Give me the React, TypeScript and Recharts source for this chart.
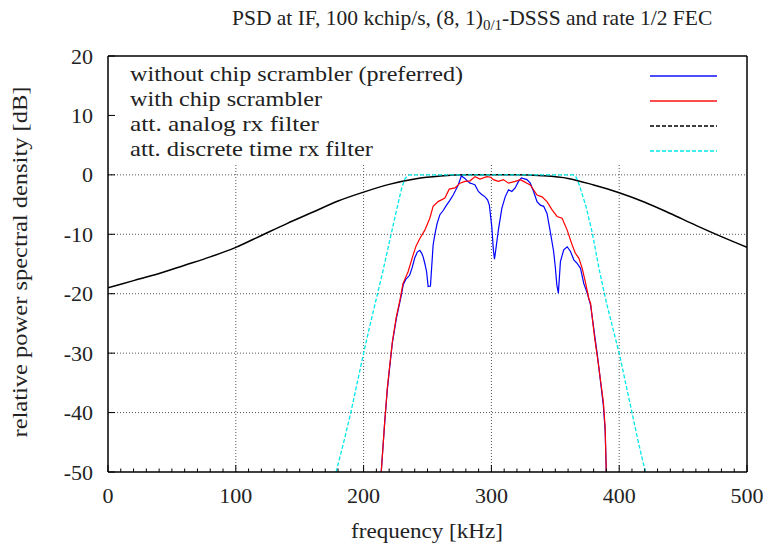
import { LineChart, Line, XAxis, YAxis, ReferenceLine } from "recharts";

// frequency [kHz] / relative PSD [dB]
const blueFreq = [
  213.8, 216.4, 218.5, 220.4, 222.5, 225.6, 229.5, 231, 233, 236, 238, 240, 242,
  244, 245.5, 246.6, 248, 249.3, 250.5, 252.3, 254.4, 255.7, 257.5, 259.7, 262.3,
  264.9, 267.5, 270.1, 272, 274, 276.5, 279.3, 281, 283.3, 285, 287.2, 289.8,
  292.4, 295, 297, 298.4, 300.3, 301.5, 302.4, 303.5, 305.5, 308.2, 310.8, 313.4,
  316, 318.6, 321.2, 323.5, 327.8, 330.4, 333, 335.7, 338.3, 340.9, 343.5, 346.1,
  348.7, 350, 351.2, 352.4, 354, 356.6, 359.3, 361.9, 364.5, 367.1, 369.7, 372.3,
  375, 377.6, 380.5, 383, 385.4, 387.6, 389, 389.9,
];
const blueDb = [
  -50, -42, -36.3, -32.4, -28.3, -24.2, -20.3, -18.5, -17.6, -16.9, -15.6, -14.0,
  -13.0, -12.7, -13.2, -13.8, -15, -16.3, -18.8, -18.7, -11.8, -10.1, -8.2, -6.7,
  -6.0, -5.1, -4.3, -3.4, -2.6, -1.7, -0.2, -0.6, -1.0, -1.4, -1.5, -1.7, -2.8,
  -3.3, -3.7, -4.2, -5.1, -8.7, -12.5, -14.2, -12.5, -9.2, -5.6, -3.7, -2.5,
  -2.8, -2.2, -1.1, -0.5, -0.8, -1.4, -2.8, -4.5, -5.1, -5.3, -6.5, -9.6, -12.9,
  -15.5, -18.5, -19.9, -14.6, -12.6, -12.1, -12.9, -14.3, -14.9, -15.7, -18.3,
  -19.9, -21.9, -26.5, -30.5, -34.8, -38.8, -43, -50,
];

const redFreq = [
  213.8, 216.4, 218.5, 220.4, 222.5, 225.6, 228.5, 230.8, 234.8, 238.7, 241, 244,
  247.9, 251.8, 254.4, 258.3, 263.6, 267, 271.5, 275.4, 279.3, 283.3, 287.2,
  291.1, 296.4, 299.5, 301.6, 305.5, 309.4, 313.4, 318.6, 322.6, 325.2, 327.8,
  330.4, 333, 335.7, 339.6, 343.5, 347.5, 351.4, 355.3, 359.3, 363.2, 365.7,
  368.4, 371, 373.5, 376.2, 377.6, 380.7, 383.3, 385.4, 387.6, 389, 389.9,
];
const redDb = [
  -50, -41.9, -36.0, -32.2, -28.1, -23.9, -21, -18.3, -16.3, -13.5, -12, -10.7,
  -9.3, -7.3, -5.3, -4.5, -3.9, -2.4, -2.2, -1.4, -1.1, -1.0, -0.3, -0.7, -0.3,
  -0.4, -0.8, -1.1, -0.8, -1.4, -1.1, -0.8, -1.1, -1.4, -1.7, -2.5, -3.4, -3.7,
  -4.5, -5.9, -7.0, -7.3, -9.3, -11.8, -13.2, -14.0, -15.7, -18.0, -20.8, -21.6,
  -27.3, -31.2, -34.6, -38.2, -42.5, -50,
];

const analogFreq = [
  0, 20, 40, 60, 80, 100, 120, 140, 160, 180, 200, 220, 240, 260, 280, 300, 320,
  340, 360, 380, 400, 420, 440, 460, 480, 500,
];
const analogDb = [
  -19.0, -17.8, -16.6, -15.2, -13.8, -12.2, -10.2, -8.2, -6.3, -4.4, -2.9, -1.6,
  -0.7, -0.2, 0, 0, 0, -0.15, -0.6, -1.7, -3.0, -4.6, -6.5, -8.5, -10.4, -12.2,
];

const discreteFreq = [
  178.5, 185, 190, 195, 200, 205, 210, 215, 220.3, 225.5, 229.5, 232, 234, 236,
  300, 364, 366, 368.8, 374, 379, 384.4, 390, 395, 400, 405, 410, 415, 420.5,
];
const discreteDb = [
  -50, -44.5, -40, -35, -30, -25.3, -20.8, -16.3, -11.2, -6.2, -2.5, -0.8, -0.2,
  0, 0, 0, -0.3, -1.7, -5.3, -9.8, -16, -21.5, -25.8, -30, -35, -40, -45, -50,
];

const xMajor = [0, 100, 200, 300, 400, 500];
const xTicks = [
  0, 10, 20, 30, 40, 50, 60, 70, 80, 90, 100, 110, 120, 130, 140, 150, 160, 170,
  180, 190, 200, 210, 220, 230, 240, 250, 260, 270, 280, 290, 300, 310, 320, 330,
  340, 350, 360, 370, 380, 390, 400, 410, 420, 430, 440, 450, 460, 470, 480, 490,
  500,
];
const yTicks = [-50, -40, -30, -20, -10, 0, 10, 20];
const gridX = [100, 200, 300, 400];
const gridY = [-40, -30, -20, -10, 0];

const legendItems = [
  { label: "without chip scrambler (preferred)", color: "#1010ff", dash: "", len: 333 },
  { label: "with chip scrambler", color: "#ff1010", dash: "", len: 192 },
  { label: "att. analog rx filter", color: "#000000", dash: "4 2", len: 189 },
  { label: "att. discrete time rx filter", color: "#00e8e8", dash: "4 2", len: 243 },
];

const toRows = (fs: number[], ds: number[]) => fs.map((f, i) => ({ f, db: ds[i] }));
const blueData = toRows(blueFreq, blueDb);
const redData = toRows(redFreq, redDb);
const analogData = toRows(analogFreq, analogDb);
const discreteData = toRows(discreteFreq, discreteDb);

const FONT = "'Liberation Serif', 'Times New Roman', serif";

const BottomTick = (p: any) => {
  const v = p.payload.value;
  const major = xMajor.includes(v);
  return (
    <g>
      <line x1={p.x} x2={p.x} y1={p.y} y2={p.y - (major ? 7 : 3.5)} stroke="#000" />
      {major && (
        <text x={p.x} y={p.y + 31} textAnchor="middle" fontFamily={FONT} fontSize={22} fill="#222">
          {v}
        </text>
      )}
    </g>
  );
};

const TopTick = (p: any) => {
  const major = xMajor.includes(p.payload.value);
  return <line x1={p.x} x2={p.x} y1={p.y} y2={p.y + (major ? 7 : 3.5)} stroke="#000" />;
};

const LeftTick = (p: any) => (
  <g>
    <line x1={p.x} x2={p.x + 7} y1={p.y} y2={p.y} stroke="#000" />
    <text x={p.x - 15} y={p.y + 7.5} textAnchor="end" fontFamily={FONT} fontSize={22} fill="#222">
      {p.payload.value}
    </text>
  </g>
);

const RightTick = (p: any) => (
  <line x1={p.x} x2={p.x - 7} y1={p.y} y2={p.y} stroke="#000" />
);

export default function App() {
  const axisLine = { stroke: "#000", strokeWidth: 1.5 };
  return (
    <div style={{ position: "relative", width: 771, height: 545, margin: "-8px 0 0 -8px", background: "#fff" }}>
      <LineChart width={771} height={545} margin={{ top: 55, right: 23, bottom: 72, left: 107 }}>
        <XAxis
          type="number"
          dataKey="f"
          domain={[0, 500]}
          ticks={xTicks}
          interval={0}
          height={1}
          tickLine={false}
          tickSize={0}
          tickMargin={0}
          axisLine={axisLine}
          tick={BottomTick}
          allowDataOverflow
        />
        <XAxis
          xAxisId="top"
          orientation="top"
          type="number"
          dataKey="f"
          domain={[0, 500]}
          ticks={xTicks}
          interval={0}
          height={1}
          tickLine={false}
          tickSize={0}
          tickMargin={0}
          axisLine={axisLine}
          tick={TopTick}
        />
        <YAxis
          type="number"
          domain={[-50, 20]}
          ticks={yTicks}
          interval={0}
          width={1}
          tickLine={false}
          tickSize={0}
          tickMargin={0}
          axisLine={axisLine}
          tick={LeftTick}
          allowDataOverflow
        />
        <YAxis
          yAxisId="right"
          orientation="right"
          type="number"
          domain={[-50, 20]}
          ticks={yTicks}
          interval={0}
          width={1}
          tickLine={false}
          tickSize={0}
          tickMargin={0}
          axisLine={axisLine}
          tick={RightTick}
        />
        {gridX.map((x) => (
          <ReferenceLine
            key={"gx" + x}
            segment={[
              { x, y: -50 },
              { x, y: 2 },
            ]}
            stroke="#555"
            strokeDasharray="1 2"
          />
        ))}
        {gridY.map((y) => (
          <ReferenceLine key={"gy" + y} y={y} stroke="#555" strokeDasharray="1 2" />
        ))}
        <Line data={blueData} dataKey="db" stroke="#0000ff" strokeWidth={1.2} dot={false} isAnimationActive={false} />
        <Line data={redData} dataKey="db" stroke="#ff0000" strokeWidth={1.2} dot={false} isAnimationActive={false} />
        <Line data={analogData} type="monotone" dataKey="db" stroke="#000" strokeWidth={1.5} dot={false} isAnimationActive={false} />
        <Line
          data={discreteData}
          dataKey="db"
          stroke="#00e8e8"
          strokeWidth={1.3}
          strokeDasharray="4 2"
          dot={false}
          isAnimationActive={false}
        />
      </LineChart>
      <svg
        width={771}
        height={545}
        style={{ position: "absolute", left: 0, top: 0, pointerEvents: "none" }}
        fontFamily={FONT}
      >
        <text x={232} y={25} fontSize={21.5} fill="#222">
          PSD at IF, 100 kchip/s, (8, 1)
          <tspan dy={5} fontSize={15}>0/1</tspan>
          <tspan dy={-5}>-DSSS and rate 1/2 FEC</tspan>
        </text>
        {legendItems.map((it, i) => (
          <g key={it.label}>
            <text x={130} y={81 + i * 25} fontSize={22} fill="#222" textLength={it.len} lengthAdjust="spacingAndGlyphs">
              {it.label}
            </text>
            <line
              x1={650}
              x2={717}
              y1={76 + i * 25}
              y2={76 + i * 25}
              stroke={it.color}
              strokeWidth={1.3}
              strokeDasharray={it.dash || undefined}
            />
          </g>
        ))}
        <text x={427} y={538} fontSize={22} fill="#222" textAnchor="middle" textLength={152} lengthAdjust="spacingAndGlyphs">
          frequency [kHz]
        </text>
        <text
          transform="translate(27 262) rotate(-90)"
          fontSize={22}
          fill="#222"
          textAnchor="middle"
          textLength={351}
          lengthAdjust="spacingAndGlyphs"
        >
          relative power spectral density [dB]
        </text>
      </svg>
    </div>
  );
}
